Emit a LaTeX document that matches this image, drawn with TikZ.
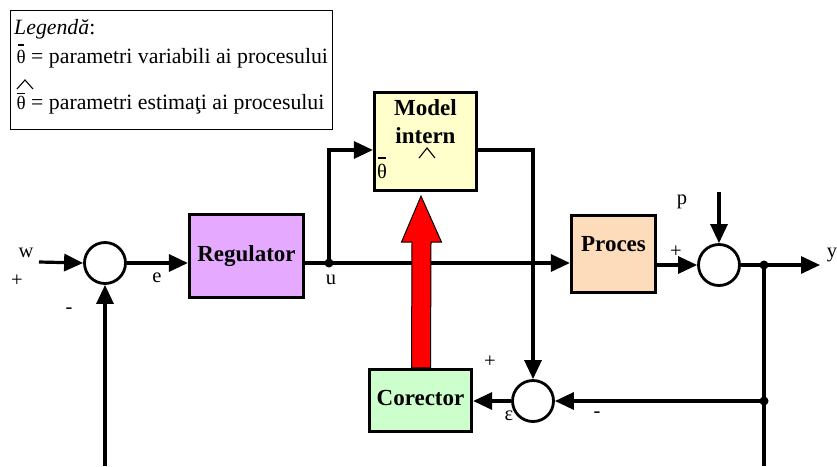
\documentclass[tikz,border=0pt]{standalone}
\usepackage{fontspec}
\setmainfont{Liberation Serif}
\usetikzlibrary{arrows.meta,calc}
\definecolor{regc}{RGB}{229,170,255}
\definecolor{proscol}{RGB}{253,220,188}
\definecolor{modc}{RGB}{255,255,204}
\definecolor{corc}{RGB}{204,255,204}
\begin{document}
\begin{tikzpicture}[x=1pt,y=-1pt,
  blk/.style={draw, line width=3.2pt, rectangle, inner sep=0pt},
  sumc/.style={draw, circle, line width=2.8pt, minimum size=41pt, inner sep=0pt, fill=white},
  wire/.style={line width=3.2pt},
  arr/.style={wire, -{Triangle[length=19pt,width=17pt]}},
  dot/.style={circle, fill=black, inner sep=0pt, minimum size=9pt},
  lbl/.style={font=\fontsize{20.5}{24}\selectfont, inner sep=0pt},
  boldt/.style={font=\fontsize{23}{28}\selectfont\bfseries, inner sep=0pt, anchor=base},
  leg/.style={font=\fontsize{21.8}{26}\selectfont, inner sep=0pt, anchor=base west},
  thsym/.style={font=\fontsize{19}{22}\selectfont, inner sep=0pt, anchor=base west},
  thinl/.style={line width=1.1pt}
]
\useasboundingbox (0,0) rectangle (837,466);

% legend
\node[draw, thinl, inner sep=0pt, minimum width=322pt, minimum height=119pt] (legbox) at (171.5,70) {};
\node[leg] (l1) at (14,34) {\textit{Legendă}:};
\node[thsym] (th1) at (16.5,63) {θ};
\draw[thinl] (18,45) -- (24,45);
\node[leg] (d1) at (31,63) {= parametri variabili ai procesului};
\draw[thinl] (17,89) -- (25,80) -- (33,89);
\draw[thinl] (17,93.5) -- (25,93.5);
\node[thsym] (th2) at (16.5,109) {θ};
\node[leg] (d2) at (31,109) {= parametri estimaţi ai procesului};

% blocks
\node[blk, fill=regc, minimum width=114pt, minimum height=83pt] (reg) at (246.5,256) {};
\node[boldt] (regt) at (246.5,261) {Regulator};
\node[blk, fill=proscol, minimum width=84pt, minimum height=77pt] (proc) at (613.5,254) {};
\node[boldt] (proct) at (613.5,251) {Proces};
\node[blk, fill=modc, minimum width=102pt, minimum height=98pt] (model) at (425.5,141.5) {};
\node[boldt] (mt1) at (425.5,115) {Model};
\node[boldt] (mt2) at (425.5,143) {intern};
\node[lbl, anchor=base] (mth) at (382,178) {θ};
\draw[thinl] (378,158) -- (386,158);
\draw[thinl] (419,158) -- (427,148) -- (435,158);
\node[blk, fill=corc, minimum width=102pt, minimum height=62pt] (cor) at (420.5,400.5) {};
\node[boldt] (cort) at (420.5,405) {Corector};

% summing junctions
\node[sumc] (c1) at (105,263) {};
\node[sumc] (c2) at (719,265) {};
\node[sumc] (c3) at (533,401) {};

% coordinates
\coordinate (win) at (39,262);
\coordinate (mrow) at (0,150);
\coordinate (yout) at (820,265);
\coordinate (pin) at (720,192);
\coordinate (ybot) at (764,466);
\coordinate (fbl) at (106,466);

% wires
\node[dot] (du) at (329,263) {};
\node[dot] (dy) at (764,265) {};
\node[dot] (dfb) at (764,401) {};
\draw[arr] (win) -- (c1.west);
\draw[arr] (c1.east) -- (c1.east -| reg.west);
\draw[wire] (du.center -| reg.east) -- (du.center);
\draw[arr] (du.center) -- (du.center -| proc.west);
\draw[arr] (du.center) -- (du.center |- mrow) -- (model.west |- mrow);
\draw[arr] (model.east |- mrow) -- (c3 |- mrow) -- (c3.north);
\draw[arr] (c3.west) -- (c3.west -| cor.east);
\draw[arr] (dfb.center) -- (c3.east);
\draw[arr] (proc.east |- c2) -- (c2.west);
\draw[wire] (c2.east) -- (dy.center);
\draw[arr] (dy.center) -- (yout);
\draw[arr] (c2.north |- pin) -- (c2.north);
\draw[wire] (dy.center) -- (ybot);
\draw[arr] (c1.south |- fbl) -- (c1.south);

% red arrow (on top of the main line)
\draw[line width=1pt, fill=red]
  ($(cor.north)+(-9,0)$) -- ($(model.south)+(-13.5,50)$) -- ($(model.south)+(-24,50)$)
  -- ($(model.south)+(-4.5,4)$) -- ($(model.south)+(16,50)$) -- ($(model.south)+(5.5,50)$)
  -- ($(cor.north)+(10,0)$) -- cycle;

% labels
\node[lbl] (lw) at (26,253) {w};
\node[lbl] (lp1) at (17,281) {+};
\node[lbl] (lm1) at (69,311) {-};
\node[lbl] (le) at (157,278) {e};
\node[lbl] (lu) at (331,280) {u};
\node[lbl] (lp) at (682,202) {p};
\node[lbl] (lp2) at (676,252) {+};
\node[lbl] (ly) at (832,255) {y};
\node[lbl] (lp3) at (490,362) {+};
\node[lbl] (leps) at (509,416) {ε};
\node[lbl] (lm3) at (597,415) {-};
\end{tikzpicture}
\end{document}
